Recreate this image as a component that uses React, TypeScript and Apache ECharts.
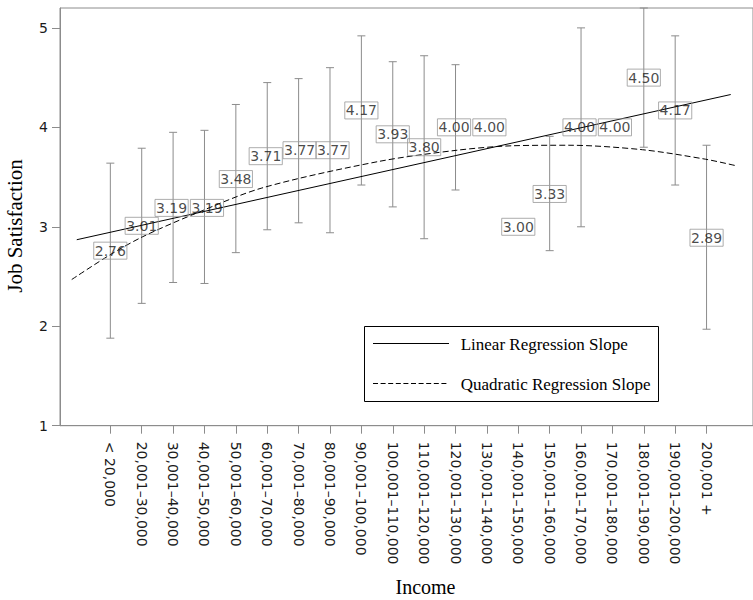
import React, { useEffect, useRef } from "react";
import * as echarts from "echarts";

const incomeCategories = [
  "< 20,000",
  "20,001\u201330,000",
  "30,001\u201340,000",
  "40,001\u201350,000",
  "50,001\u201360,000",
  "60,001\u201370,000",
  "70,001\u201380,000",
  "80,001\u201390,000",
  "90,001\u2013100,000",
  "100,001\u2013110,000",
  "110,001\u2013120,000",
  "120,001\u2013130,000",
  "130,001\u2013140,000",
  "140,001\u2013150,000",
  "150,001\u2013160,000",
  "160,001\u2013170,000",
  "170,001\u2013180,000",
  "180,001\u2013190,000",
  "190,001\u2013200,000",
  "200,001 +",
];

const meanSatisfaction = [
  2.76, 3.01, 3.19, 3.19, 3.48, 3.71, 3.77, 3.77, 4.17, 3.93, 3.8, 4.0, 4.0, 3.0,
  3.33, 4.0, 4.0, 4.5, 4.17, 2.89,
];

const ciLower: (number | null)[] = [
  1.88, 2.23, 2.44, 2.43, 2.74, 2.97, 3.04, 2.94, 3.42, 3.2, 2.88, 3.37, null, null,
  2.76, 3.0, null, 3.8, 3.42, 1.97,
];

const ciUpper: (number | null)[] = [
  3.64, 3.79, 3.95, 3.97, 4.23, 4.45, 4.49, 4.6, 4.92, 4.66, 4.72, 4.63, null, null,
  3.91, 5.0, null, 5.2, 4.92, 3.82,
];

// Linear fit line (category position, value)
const linearX = [-1.07, 19.77];
const linearY = [2.87, 4.33];

// Quadratic fit curve (category position, value)
const quadX = [-1.23, 0, 1.03, 2.61, 4.83, 8.52, 11.05, 12.84, 14.6, 16.96, 18.96, 19.9];
const quadY = [2.47, 2.72, 2.9, 3.12, 3.39, 3.655, 3.77, 3.815, 3.82, 3.775, 3.68, 3.617];

const yTicks = [1, 2, 3, 4, 5];

const legendLabels = ["Linear Regression Slope", "Quadratic Regression Slope"];

export default function App() {
  const ref = useRef<HTMLDivElement>(null);

  useEffect(() => {
    document.body.style.margin = "0";
    if (!ref.current) return;
    const chart = echarts.init(ref.current, undefined, { renderer: "svg" });

    const catIdx = incomeCategories.map((_, i) => i);
    const errData: number[][] = [];
    catIdx.forEach((i) => {
      const lo = ciLower[i];
      const hi = ciUpper[i];
      if (lo != null && hi != null) errData.push([i, lo, hi]);
    });

    const gray = "#8c8c8c";
    const sans = "DejaVu Sans";
    const serif = "Liberation Serif";

    // nudge neighbouring labels apart when they sit at nearly the same level
    const close = (a: number, b: number) => Math.abs(a - b) < 0.12;
    const labelLayout = (p: any) => {
      const i = p.dataIndex;
      const m = meanSatisfaction;
      let dx = 0;
      if (i > 0 && close(m[i], m[i - 1])) dx += 2.5;
      if (i < m.length - 1 && close(m[i], m[i + 1])) dx -= 1.5;
      return { dx };
    };

    const option: any = {
      animation: false,
      backgroundColor: "#ffffff",
      grid: {
        left: 60,
        top: 8,
        right: -5,
        bottom: 174.3,
        show: true,
        borderColor: gray,
        borderWidth: 1,
        backgroundColor: "transparent",
      },
      xAxis: {
        type: "value",
        min: -1.604,
        max: 20.48,
        splitLine: { show: false },
        axisLine: { show: true, onZero: false, lineStyle: { color: gray } },
        axisTick: {
          show: true,
          customValues: catIdx,
          length: 8,
          lineStyle: { color: gray },
        },
        axisLabel: {
          show: true,
          customValues: catIdx,
          rotate: -90,
          margin: 16,
          fontFamily: sans,
          fontSize: 14,
          color: "#1a1a1a",
          formatter: (v: number) => incomeCategories[Math.round(v)] ?? "",
        },
      },
      yAxis: {
        type: "value",
        min: 1,
        max: 5.2,
        splitLine: { show: false },
        axisLine: { show: true, onZero: false, lineStyle: { color: gray } },
        axisTick: {
          show: true,
          customValues: yTicks,
          length: 8,
          lineStyle: { color: gray },
        },
        axisLabel: {
          show: true,
          customValues: yTicks,
          margin: 12,
          fontFamily: sans,
          fontSize: 14,
          color: "#1a1a1a",
        },
      },
      series: [
        {
          type: "custom",
          name: "CI",
          data: errData,
          encode: { x: 0, y: [1, 2] },
          z: 2,
          renderItem: (params: any, api: any) => {
            const x = api.value(0);
            const lo = api.coord([x, api.value(1)]);
            const hi = api.coord([x, api.value(2)]);
            const cap = 4;
            const st = { stroke: gray, lineWidth: 1 };
            return {
              type: "group",
              children: [
                { type: "line", shape: { x1: lo[0], y1: lo[1], x2: hi[0], y2: hi[1] }, style: st },
                { type: "line", shape: { x1: lo[0] - cap, y1: lo[1], x2: lo[0] + cap, y2: lo[1] }, style: st },
                { type: "line", shape: { x1: hi[0] - cap, y1: hi[1], x2: hi[0] + cap, y2: hi[1] }, style: st },
              ],
            };
          },
        },
        {
          type: "line",
          name: legendLabels[0],
          data: linearX.map((x, i) => [x, linearY[i]]),
          showSymbol: false,
          symbol: "none",
          lineStyle: { color: "#000", width: 1 },
          z: 3,
        },
        {
          type: "line",
          name: legendLabels[1],
          data: quadX.map((x, i) => [x, quadY[i]]),
          showSymbol: false,
          symbol: "none",
          smooth: 0.3,
          lineStyle: { color: "#000", width: 1, type: [6, 3] },
          z: 3,
        },
        {
          type: "scatter",
          name: "Mean",
          data: meanSatisfaction.map((v, i) => [i, v]),
          symbol: "circle",
          symbolSize: 1,
          itemStyle: { color: "rgba(0,0,0,0)" },
          z: 4,
          labelLayout,
          label: {
            show: true,
            position: "inside",
            fontFamily: sans,
            fontSize: 14,
            lineHeight: 15,
            color: "#1a1a1a",
            borderColor: "#999",
            borderWidth: 1,
            padding: [1, 1, 1, 1],
            formatter: (p: any) => Number(p.value[1]).toFixed(2),
          },
        },
      ],
      graphic: [
        {
          type: "text",
          x: 14.5,
          y: 226,
          rotation: Math.PI / 2,
          style: {
            text: "Job Satisfaction",
            fontFamily: serif,
            fontSize: 21,
            fill: "#000",
            textAlign: "center",
            textVerticalAlign: "middle",
          },
        },
        {
          type: "text",
          x: 425.5,
          y: 587,
          style: {
            text: "Income",
            fontFamily: serif,
            fontSize: 20,
            fill: "#000",
            textAlign: "center",
            textVerticalAlign: "middle",
          },
        },
        {
          type: "group",
          children: [
            {
              type: "rect",
              shape: { x: 364.5, y: 326.5, width: 294, height: 75 },
              style: { fill: "#fff", stroke: "#000", lineWidth: 1 },
            },
            {
              type: "line",
              shape: { x1: 373, y1: 343.5, x2: 449, y2: 343.5 },
              style: { stroke: "#000", lineWidth: 1 },
            },
            {
              type: "line",
              shape: { x1: 373, y1: 383.5, x2: 449, y2: 383.5 },
              style: { stroke: "#000", lineWidth: 1, lineDash: [5, 2.6] },
            },
            {
              type: "text",
              x: 460.7,
              y: 344.5,
              style: {
                text: legendLabels[0],
                fontFamily: serif,
                fontSize: 17,
                fill: "#000",
                textAlign: "left",
                textVerticalAlign: "middle",
              },
            },
            {
              type: "text",
              x: 460.7,
              y: 384,
              style: {
                text: legendLabels[1],
                fontFamily: serif,
                fontSize: 17,
                fill: "#000",
                textAlign: "left",
                textVerticalAlign: "middle",
              },
            },
          ],
        },
      ],
    };

    chart.setOption(option);
    return () => chart.dispose();
  }, []);

  return <div ref={ref} style={{ width: 753, height: 600 }} />;
}
